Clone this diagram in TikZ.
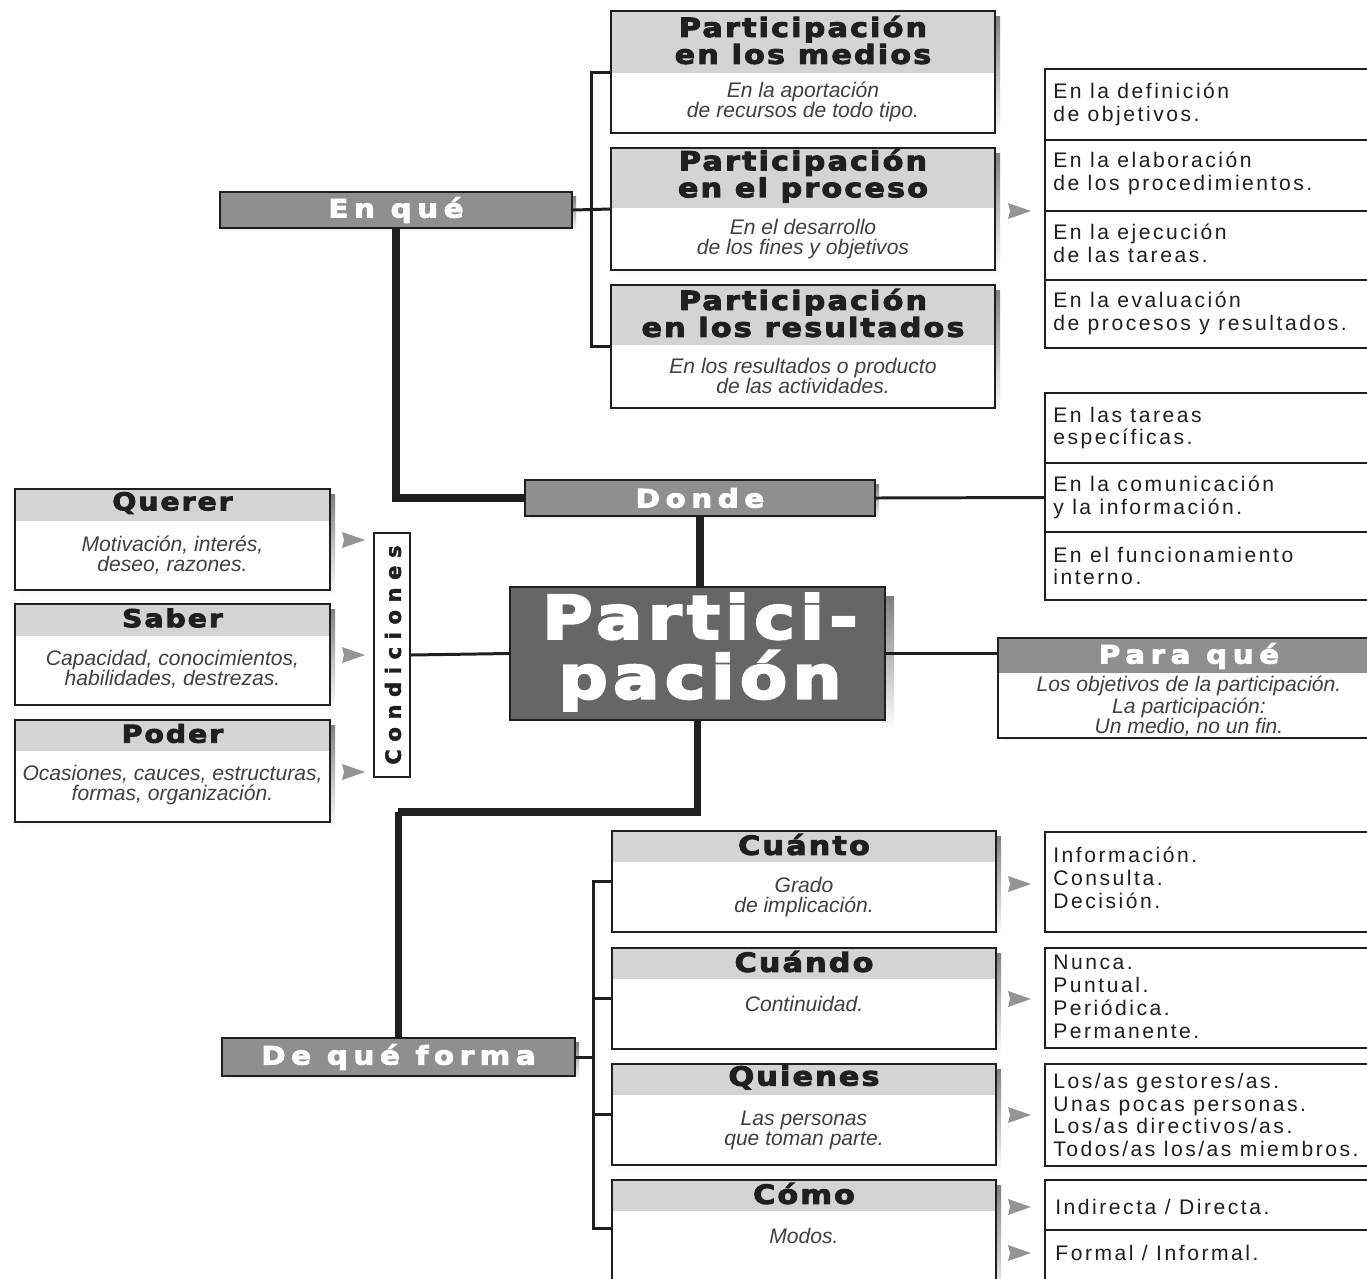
\documentclass[tikz,border=0pt]{standalone}
\usepackage{fontspec}
\setmainfont{Liberation Sans}
\newfontfamily\hfontA{DejaVu Sans}[FakeStretch=1.15,FakeBold=3.5,LetterSpace=8]
\newfontfamily\hfontB{DejaVu Sans}[FakeStretch=1.15,FakeBold=3.5,LetterSpace=22]
\newfontfamily\hfontC{DejaVu Sans}[FakeStretch=1.15,FakeBold=4,LetterSpace=9]
\newfontfamily\cfont{DejaVu Sans}[FakeBold=2,LetterSpace=36]
\newfontfamily\rfont{Liberation Sans}[LetterSpace=12]
\usetikzlibrary{fit,calc}

\definecolor{lighthead}{gray}{0.83}
\definecolor{darkhead}{gray}{0.56}
\definecolor{corehead}{gray}{0.40}
\definecolor{shade}{gray}{0.80}
\definecolor{arrowc}{gray}{0.58}
\definecolor{ink}{gray}{0.12}

\def\tsz{15pt}
\tikzset{
  frame/.style={draw=ink, line width=1pt},
  thinframe/.style={draw=ink, line width=0.7pt},
  trunk/.style={draw=ink, line width=4.2pt},
  branch/.style={draw=ink, line width=1.7pt},
  ttl/.style={font=\hfontA\bfseries\fontsize{\tsz}{15.3pt}\selectfont, align=center, text=ink, inner sep=0pt},
  body/.style={font=\itshape\fontsize{12pt}{11.3pt}\selectfont, align=center, text=ink!85, inner sep=0pt},
  darkbox/.style={fill=darkhead, draw=ink, line width=1pt, inner sep=0pt},
  darktxt/.style={text=white, inner sep=0pt, font=\hfontB\bfseries\fontsize{14.5pt}{15pt}\selectfont},
  rtxt/.style={font=\rfont\fontsize{12pt}{13pt}\selectfont, align=left, anchor=west, text=ink, inner sep=0pt},
  cell/.style={thinframe, fill=white, inner sep=0pt},
}

% titled box: name, x1, y1, x2, y2, header bottom, title, body, body y
\newcommand{\tbox}[9]{%
  \fill[shade] (#2+5,#3+5) rectangle (#4+5,#5+5);
  \node[fit={(#2,#3)(#4,#5)}, inner sep=0pt, fill=white] (#1) {};
  \fill[lighthead] (#2,#3) rectangle (#4,#6);
  \draw[frame] (#1.north west) rectangle (#1.south east);
  \node[ttl] (#1t) at ({(#2+#4)/2},{(#3+#6)/2-2}) {#7};
  \node[body] (#1b) at ({(#2+#4)/2},#9) {#8};
}
\newcommand{\arr}[2]{%
  \fill[arrowc] (#1,#2-8) -- (#1+23,#2) -- (#1,#2+8) -- (#1+2,#2) -- cycle;
}

\begin{document}
\begin{tikzpicture}[x=0.02cm, y=-0.02cm]
\fill[white] (0,0) rectangle (1367,1279);
\clip (0,0) rectangle (1367,1279);

% ---------- top: participación boxes ----------
\tbox{pm1}{611}{11}{995}{133}{73}{Participación\\en los medios}{En la aportación\\de recursos de todo tipo.}{102}
\tbox{pm2}{611}{148}{995}{270}{208}{Participación\\en el proceso}{En el desarrollo\\de los fines y objetivos}{239}
\tbox{pm3}{611}{285}{995}{408}{345}{Participación\\en los resultados}{En los resultados o producto\\de las actividades.}{376}

% ---------- top right list ----------
\fill[shade] (1045+4,69+4) rectangle (1380,348+4);
\node[cell, fit={(1045,69)(1380,140)}] (o1) {};
\node[cell, fit={(1045,140)(1380,211)}] (o2) {};
\node[cell, fit={(1045,211)(1380,280)}] (o3) {};
\node[cell, fit={(1045,280)(1380,348)}] (o4) {};
\node[rtxt] (o1t) at (1053,104) {En la definición\\de objetivos.};
\node[rtxt] (o2t) at (1053,173) {En la elaboración\\de los procedimientos.};
\node[rtxt] (o3t) at (1053,243) {En la ejecución\\de las tareas.};
\node[rtxt] (o4t) at (1053,313) {En la evaluación\\de procesos y resultados.};
\arr{1008}{211}

% ---------- En qué ----------
\fill[shade] (220+4,192+4) rectangle (572+4,228+4);
\node[darkbox, fit={(220,192)(572,228)}] (enque) {};
\node[darktxt] (enquet) at (enque.center) {En qué};

% ---------- Donde ----------
\fill[shade] (525+4,480+4) rectangle (875+4,516+4);
\node[darkbox, fit={(525,480)(875,516)}] (donde) {};
\node[darktxt] (dondet) at (donde.center) {Donde};

% ---------- middle right list ----------
\fill[shade] (1045+4,393+4) rectangle (1380,600+4);
\node[cell, fit={(1045,393)(1380,463)}] (w1) {};
\node[cell, fit={(1045,463)(1380,532)}] (w2) {};
\node[cell, fit={(1045,532)(1380,600)}] (w3) {};
\node[rtxt] (w1t) at (1053,428) {En las tareas\\específicas.};
\node[rtxt] (w2t) at (1053,497) {En la comunicación\\y la información.};
\node[rtxt] (w3t) at (1053,566) {En el funcionamiento\\interno.};

% ---------- central ----------
\fill[shade] (510+9,587+9) rectangle (885+9,720+9);
\node[fit={(510,587)(885,720)}, fill=corehead, draw=ink, line width=1pt, inner sep=0pt] (core) {};
\node[font=\hfontC\bfseries\fontsize{34pt}{34pt}\selectfont, text=white, align=center, inner sep=0pt] (coret) at (700,652) {Partici-\\pación};

% ---------- left condition boxes ----------
\def\tsz{14pt}
\tbox{qu}{15}{489}{330}{590}{521}{Querer}{Motivación, interés,\\deseo, razones.}{555}
\tbox{sa}{15}{604}{330}{705}{636}{Saber}{Capacidad, conocimientos,\\habilidades, destrezas.}{669}
\tbox{po}{15}{720}{330}{822}{751}{Poder}{Ocasiones, cauces, estructuras,\\formas, organización.}{785}
\def\tsz{15pt}
\arr{342}{540}
\arr{342}{655}
\arr{342}{772}

\node[fit={(374,533)(410,777)}, inner sep=0pt, frame, fill=white] (cond) {};
\node[rotate=90, font=\cfont\bfseries\fontsize{12pt}{12pt}\selectfont, text=ink, inner sep=0pt] (condt) at (393,655) {Condiciones};

% ---------- Para qué ----------
\fill[shade] (998+5,638+5) rectangle (1380,738+5);
\node[fit={(998,638)(1380,738)}, inner sep=0pt, fill=white] (paraque) {};
\fill[darkhead] (998,638) rectangle (1380,673);
\draw[frame] (paraque.north west) rectangle (paraque.south east);
\node[darktxt] (paraquet) at (1189,656) {Para qué};
\node[body] (paraqueb) at (1189,706) {Los objetivos de la participación.\\La participación:\\Un medio, no un fin.};

% ---------- De qué forma ----------
\fill[shade] (222+4,1038+4) rectangle (575+4,1076+4);
\node[darkbox, fit={(222,1038)(575,1076)}] (defor) {};
\node[darktxt] (defort) at (defor.center) {De qué forma};

% ---------- bottom boxes ----------
\tbox{qb1}{612}{831}{996}{932}{862}{Cuánto}{Grado\\de implicación.}{897}
\tbox{qb2}{612}{948}{996}{1049}{979}{Cuándo}{Continuidad.}{1004}
\tbox{qb3}{612}{1064}{996}{1165}{1095}{Quienes}{Las personas\\que toman parte.}{1130}
\tbox{qb4}{612}{1180}{996}{1300}{1211}{Cómo}{Modos.}{1236}
\coordinate (cmt) at (612,1228);

% ---------- bottom right lists ----------
\fill[shade] (1045+4,832+4) rectangle (1380,932+4);
\node[cell, fit={(1045,832)(1380,932)}] (r1) {};
\node[rtxt] (r1t) at (1053,878) {Información.\\Consulta.\\Decisión.};
\fill[shade] (1045+4,948+4) rectangle (1380,1048+4);
\node[cell, fit={(1045,948)(1380,1048)}] (r2) {};
\node[rtxt] (r2t) at (1053,997) {Nunca.\\Puntual.\\Periódica.\\Permanente.};
\fill[shade] (1045+4,1064+4) rectangle (1380,1166+4);
\node[cell, fit={(1045,1064)(1380,1166)}] (r3) {};
\node[rtxt] (r3t) at (1053,1115) {Los/as gestores/as.\\Unas pocas personas.\\Los/as directivos/as.\\Todos/as los/as miembros.};
\node[cell, fit={(1045,1180)(1380,1230)}] (r4) {};
\node[cell, fit={(1045,1230)(1380,1300)}] (r5) {};
\node[rtxt] (r4t) at (1055,1207) {Indirecta / Directa.};
\node[rtxt] (r5t) at (1055,1253) {Formal / Informal.};
\arr{1008}{884}
\arr{1008}{999}
\arr{1008}{1115}
\arr{1008}{1207}
\arr{1008}{1253}

% ---------- connectors ----------
\draw[trunk] (enque.south) |- (donde.west);
\draw[trunk] (donde.south) -- (donde.south |- core.north);
\coordinate (k1) at (398,812);
\draw[trunk] (core.south) |- (k1) -| (defor.north);
\draw[branch] (enque.east) -- (pm2.west);
\draw[branch] (pm1.west) -- ++(-19,0) |- (pm3.west);
\draw[branch] (donde.east) -- (w2.west);
\draw[branch] (core.west) -- (cond.east);
\draw[branch] (core.east) -- (core.east -| paraque.west);
\draw[branch] (defor.east) -- ++(19,0);
\draw[branch] (qb1.west) -- ++(-18,0) |- (cmt);
\draw[branch] (qb2.west) -- ++(-18,0);
\draw[branch] (qb3.west) -- ++(-18,0);
\end{tikzpicture}
\end{document}
